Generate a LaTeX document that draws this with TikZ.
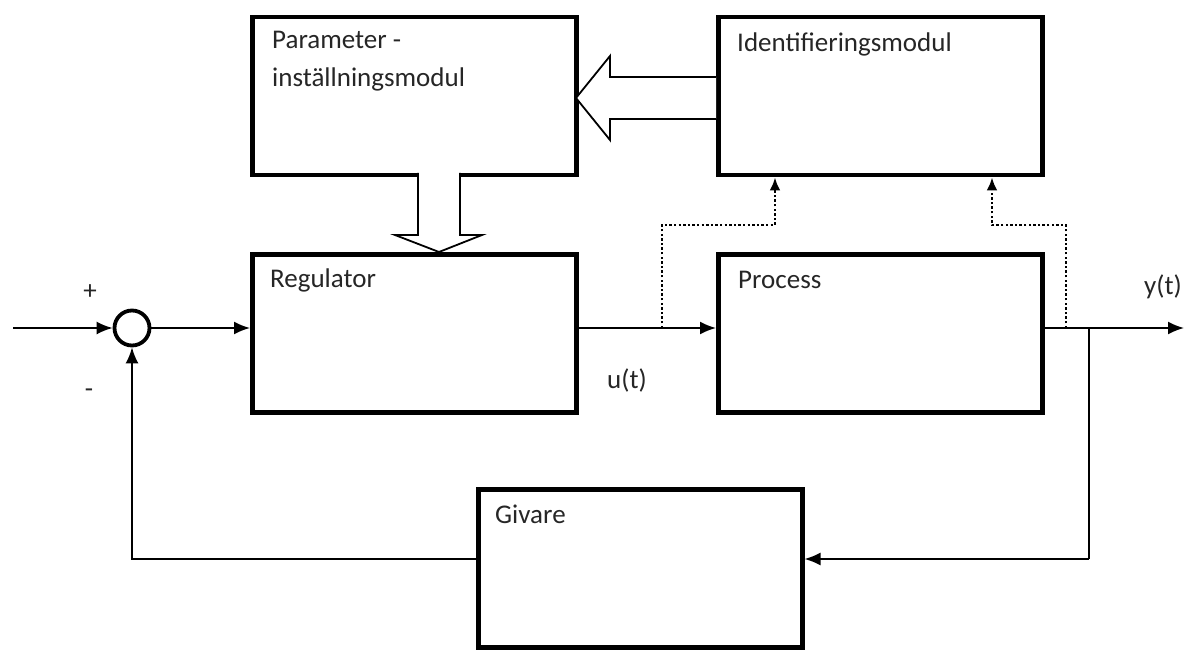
\documentclass[tikz,border=0pt]{standalone}
\usepackage{fontspec}
\setmainfont{Carlito}
\usetikzlibrary{arrows.meta}
\begin{document}
\begin{tikzpicture}[x=1pt,y=-1pt,
  box/.style={draw=black, line width=4.5pt, anchor=north west, inner sep=0pt,
    minimum width=324pt, minimum height=158pt},
  lbl/.style={anchor=base west, inner sep=0pt, text=black!85,
    font=\fontsize{27}{38}\selectfont, align=left},
  conn/.style={draw=black, line width=1.8pt},
  arr/.style={conn, -{Latex[length=16pt,width=13pt]}},
  dotc/.style={draw=black, line width=2.4pt, dash pattern=on 2.4pt off 2.2pt},
  darr/.style={dotc, -{Latex[length=13pt,width=11pt]}},
  blockarrow/.style={draw=black, line width=1.8pt, fill=white, line join=miter},
  sumnode/.style={circle, draw=black, line width=3.8pt, minimum size=35pt, inner sep=0pt}
]
\useasboundingbox (0,0) rectangle (1187,650);

% boxes
\node[box] (param) at (250,15) {};
\node[box] (ident) at (716,15) {};
\node[box] (reg) at (250,252) {};
\node[box] (proc) at (716,252) {};
\node[box] (giv) at (476,487) {};

% texts
\node[lbl] (tparam) at (272,87) {Parameter -\\inställningsmodul};
\node[lbl] (tident) at (737,52) {Identifieringsmodul};
\node[lbl] (treg) at (270,287) {Regulator};
\node[lbl] (tproc) at (738,288) {Process};
\node[lbl] (tgiv) at (495,523) {Givare};
\node[lbl, anchor=center] (plus) at (90,292) {+};
\node[lbl, anchor=center] (minus) at (89,393) {-};
\node[lbl, anchor=center] (ut) at (627,380) {u(t)};
\node[lbl, anchor=center] (yt) at (1163,287) {y(t)};

% summation
\node[sumnode] (sum) at (132,328) {};

% block arrows
\draw[blockarrow] (716,77) -- (610,77) -- (610,56) -- (576,98) -- (610,140) -- (610,119) -- (716,119);
\draw[blockarrow] (418,173) -- (418,235) -- (395,235) -- (439,252) -- (482,235) -- (460,235) -- (460,173);

% signal path
\coordinate (in) at (13,328);
\coordinate (yout) at (1184,328);
\coordinate (br) at (1089,328);
\coordinate (fbR) at (1089,559);
\draw[arr] (in) -- (sum);
\draw[arr] (sum) -- (sum -| reg.west);
\draw[arr] (reg.east |- sum) -- (proc.west |- sum);
\draw[arr] (proc.east |- sum) -- (yout);
\draw[conn] (br) -- (fbR);
\draw[arr] (fbR) -- (fbR -| giv.east);
\draw[arr] (giv.west |- fbR) -| (sum.south);

% dotted measurement lines
\coordinate (d1) at (662,328);
\coordinate (d1t) at (775,225);
\coordinate (d2) at (1066,328);
\coordinate (d2t) at (992,225);
\draw[darr] (d1) |- (d1t) -- (d1t |- ident.south);
\draw[darr] (d2) |- (d2t) -- (d2t |- ident.south);
\end{tikzpicture}
\end{document}
